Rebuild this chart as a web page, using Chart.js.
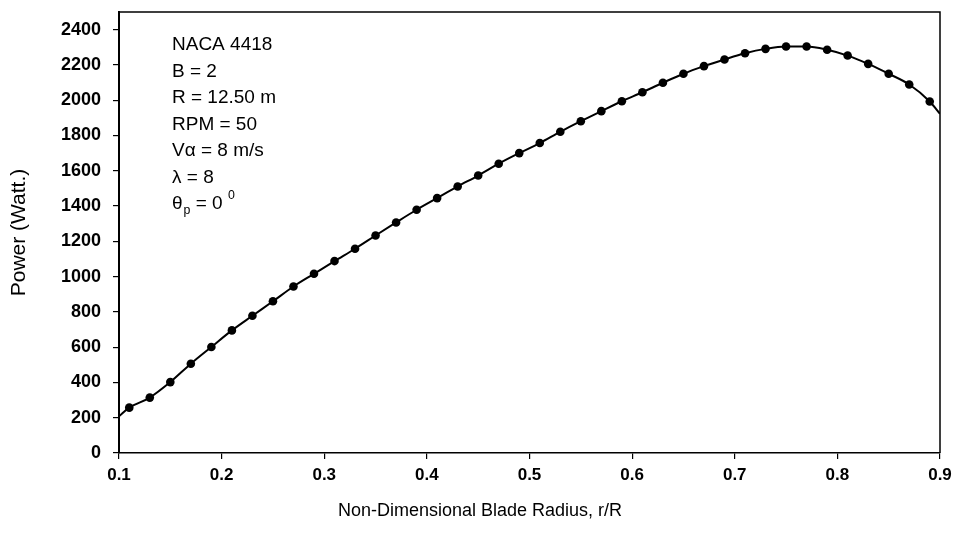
<!DOCTYPE html>
<html>
<head>
<meta charset="utf-8">
<script src="https://cdn.jsdelivr.net/npm/chart.js@4.4.1/dist/chart.umd.min.js"></script>
<style>
  html, body { margin: 0; background: #fff; }
  #wrap { width: 960px; height: 538px; position: relative; }
</style>
</head>
<body>
<div id="wrap"><canvas id="chart"></canvas></div>
<script>
// r/R stations with markers
const radius = [
  0.11, 0.13, 0.15, 0.17, 0.19, 0.21, 0.23, 0.25, 0.27, 0.29,
  0.31, 0.33, 0.35, 0.37, 0.39, 0.41, 0.43, 0.45, 0.47, 0.49,
  0.51, 0.53, 0.55, 0.57, 0.59, 0.61, 0.63, 0.65, 0.67, 0.69,
  0.71, 0.73, 0.75, 0.77, 0.79, 0.81, 0.83, 0.85, 0.87, 0.89,
];
// power in watts
const power = [
  257, 314, 402, 506, 601, 695, 778, 860, 944, 1016,
  1088, 1158, 1233, 1307, 1379, 1445, 1511, 1573, 1640, 1700,
  1757, 1821, 1881, 1938, 1994, 2045, 2099, 2150, 2193, 2231,
  2266, 2291, 2304, 2304, 2286, 2253, 2206, 2150, 2089, 1993,
];
// where the curve meets the frame (no marker there)
const edgeRadius = [0.1, 0.9];
const edgePower = [208, 1923];

const xTicks = [0.1, 0.2, 0.3, 0.4, 0.5, 0.6, 0.7, 0.8, 0.9];
const yTicks = [0, 200, 400, 600, 800, 1000, 1200, 1400, 1600, 1800, 2000, 2200, 2400];

const xTitle = "Non-Dimensional Blade Radius, r/R";
const yTitle = "Power (Watt.)";

// annotation lines: [main, sub, rest, sup]
const notes = [
  ["NACA 4418", "", "", ""],
  ["B = 2", "", "", ""],
  ["R = 12.50 m", "", "", ""],
  ["RPM = 50", "", "", ""],
  ["V\u03b1 = 8 m/s", "", "", ""],
  ["\u03bb = 8", "", "", ""],
  ["\u03b8", "p", " = 0 ", "0"],
];

const FONT = "'Liberation Sans', Arial, sans-serif";

const curvePts = [{ x: edgeRadius[0], y: edgePower[0] }]
  .concat(radius.map((r, i) => ({ x: r, y: power[i] })))
  .concat([{ x: edgeRadius[1], y: edgePower[1] }]);
const markerPts = radius.map((r, i) => ({ x: r, y: power[i] }));

const framePlugin = {
  id: "frame",
  afterDraw(chart) {
    const { ctx, chartArea: a } = chart;
    ctx.save();
    ctx.strokeStyle = "#000";
    ctx.lineWidth = 1.5;
    ctx.beginPath();
    ctx.moveTo(a.left, a.top);
    ctx.lineTo(a.right, a.top);
    ctx.lineTo(a.right, a.bottom);
    ctx.stroke();
    ctx.restore();
  },
};

const notesPlugin = {
  id: "notes",
  afterDraw(chart) {
    const { ctx } = chart;
    const left = 172, top = 45, step = 26.5, size = 19;
    ctx.save();
    ctx.fillStyle = "#000";
    ctx.textBaseline = "middle";
    ctx.textAlign = "left";
    notes.forEach(([main, sub, rest, sup], i) => {
      const y = top + i * step;
      let x = left;
      ctx.font = `${size}px ${FONT}`;
      ctx.fillText(main, x, y);
      x += ctx.measureText(main).width;
      if (sub) {
        ctx.font = `${size * 0.65}px ${FONT}`;
        ctx.fillText(sub, x + 1, y + 7);
        x += ctx.measureText(sub).width + 1;
      }
      if (rest) {
        ctx.font = `${size}px ${FONT}`;
        ctx.fillText(rest, x, y);
        x += ctx.measureText(rest).width;
      }
      if (sup) {
        ctx.font = `${size * 0.65}px ${FONT}`;
        ctx.fillText(sup, x, y - 8);
      }
    });
    ctx.restore();
  },
};

new Chart(document.getElementById("chart"), {
  type: "scatter",
  data: {
    datasets: [
      {
        label: "curve",
        data: curvePts,
        showLine: true,
        borderColor: "#000",
        borderWidth: 2,
        pointRadius: 0,
        cubicInterpolationMode: "monotone",
        fill: false,
      },
      {
        label: "points",
        data: markerPts,
        showLine: false,
        pointRadius: 4.3,
        pointBackgroundColor: "#000",
        pointBorderColor: "#000",
        pointBorderWidth: 0,
      },
    ],
  },
  options: {
    animation: false,
    responsive: true,
    maintainAspectRatio: false,
    layout: { padding: { top: 12, right: 20, left: 20, bottom: 0 } },
    plugins: {
      legend: { display: false },
      tooltip: { enabled: false },
      title: {
        display: true,
        position: "bottom",
        text: xTitle,
        color: "#000",
        font: { family: FONT, size: 18, weight: "normal" },
        padding: { top: 12, bottom: 16 },
      },
    },
    scales: {
      x: {
        type: "linear",
        min: 0.1,
        max: 0.9,
        afterBuildTicks: s => { s.ticks = xTicks.map(v => ({ value: v })); },
        afterFit: s => { s.height = 35.4; s.paddingLeft = 0; s.paddingRight = 0; },
        border: { display: true, color: "#000", width: 1.5 },
        grid: { display: true, drawOnChartArea: false, drawTicks: true, tickLength: 6, color: "#000", lineWidth: 1.2 },
        ticks: {
          color: "#000",
          padding: 6,
          font: { family: FONT, size: 17, weight: "bold" },
          maxRotation: 0,
          callback: v => v.toFixed(1),
        },
      },
      y: {
        type: "linear",
        min: 0,
        max: 2500,
        afterBuildTicks: s => { s.ticks = yTicks.map(v => ({ value: v })); },
        afterFit: s => { s.width = 99; s.paddingTop = 0; s.paddingBottom = 0; },
        border: { display: true, color: "#000", width: 2 },
        grid: { display: true, drawOnChartArea: false, drawTicks: true, tickLength: 6, color: "#000", lineWidth: 1.2 },
        ticks: {
          color: "#000",
          padding: 12,
          font: { family: FONT, size: 18, weight: "bold" },
          callback: v => String(v),
        },
        title: {
          display: true,
          text: yTitle,
          color: "#000",
          font: { family: FONT, size: 21 },
          padding: { top: -13, bottom: 0 },
        },
      },
    },
  },
  plugins: [framePlugin, notesPlugin],
});
</script>
</body>
</html>
